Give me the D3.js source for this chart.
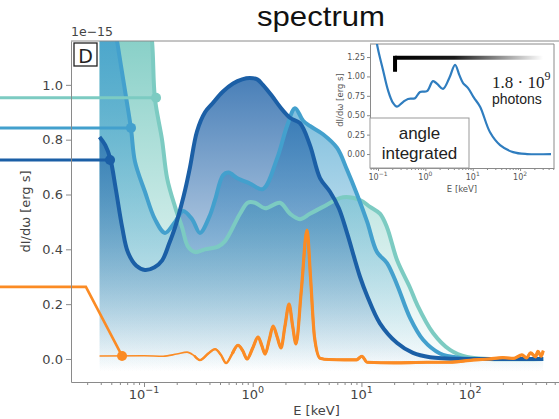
<!DOCTYPE html>
<html>
<head>
<meta charset="utf-8">
<script src="https://cdn.jsdelivr.net/npm/d3@7"></script>
<style>
body { margin: 0; background: #fff; }
svg { display: block; }
</style>
</head>
<body>
<svg id="fig" width="559" height="419"></svg>
<script>
// energies in keV, values in units of 1e-15 erg s
var tealE = [0.039, 0.06, 0.08, 0.1, 0.1185, 0.126, 0.1465, 0.163, 0.193, 0.224, 0.254, 0.295, 0.364, 0.48, 0.556, 0.764, 0.9, 1.05, 1.3, 1.78, 2.2, 2.72, 3.36, 4.43, 6.78, 9.7, 12, 14.8, 17.2, 21.3, 28, 32.4, 45.6, 65.3, 93.5, 150, 470];
var tealV = [2.6, 2.2, 1.8, 1.4, 1.16, 0.95, 0.80, 0.66, 0.555, 0.48, 0.41, 0.39, 0.40, 0.41, 0.43, 0.53, 0.57, 0.57, 0.55, 0.57, 0.53, 0.51, 0.53, 0.555, 0.59, 0.58, 0.555, 0.53, 0.48, 0.36, 0.26, 0.20, 0.095, 0.033, 0.007, 0.0, 0.0];

var mediumE = [0.039, 0.05, 0.0565, 0.0668, 0.0759, 0.0826, 0.102, 0.126, 0.156, 0.193, 0.229, 0.277, 0.327, 0.40, 0.45, 0.533, 0.6, 0.717, 0.944, 1.24, 1.67, 2.07, 2.45, 2.9, 3.36, 4.43, 5.97, 7.37, 9.12, 11.3, 13.9, 17.2, 21.3, 28, 36.9, 52.8, 80.7, 150, 470];
var mediumV = [1.6, 1.3, 1.16, 0.98, 0.84, 0.72, 0.61, 0.51, 0.46, 0.50, 0.54, 0.51, 0.46, 0.52, 0.58, 0.67, 0.68, 0.66, 0.64, 0.62, 0.73, 0.85, 0.915, 0.87, 0.85, 0.82, 0.77, 0.69, 0.60, 0.50, 0.39, 0.35, 0.27, 0.15, 0.07, 0.02, 0.004, 0.0, 0.0];

var darkE = [0.039, 0.044, 0.049, 0.055, 0.063, 0.071, 0.085, 0.102, 0.125, 0.147, 0.17, 0.193, 0.22, 0.24, 0.265, 0.307, 0.364, 0.422, 0.53, 0.66, 0.8, 0.94, 1.1, 1.24, 1.5, 1.78, 2.2, 2.72, 3.36, 4.16, 5.14, 6.2, 7.37, 9.7, 11.3, 14.8, 21.3, 29.8, 42.8, 60, 100, 200, 470];
var darkV = [0.81, 0.78, 0.73, 0.62, 0.48, 0.39, 0.34, 0.325, 0.335, 0.36, 0.42, 0.48, 0.56, 0.62, 0.70, 0.83, 0.90, 0.93, 0.975, 1.005, 1.02, 1.025, 1.02, 1.0, 0.96, 0.92, 0.88, 0.86, 0.78, 0.66, 0.61, 0.55, 0.46, 0.30, 0.23, 0.13, 0.058, 0.022, 0.006, 0.002, 0.0, 0.0, 0.0];

var orangeE = [0.039, 0.1, 0.15, 0.2, 0.249, 0.29, 0.327, 0.39, 0.45, 0.51, 0.568, 0.65, 0.732, 0.81, 0.887, 1.0, 1.12, 1.21, 1.30, 1.42, 1.54, 1.68, 1.82, 1.98, 2.16, 2.33, 2.50, 2.8, 3.16, 3.4, 3.7, 4.16, 5, 7, 9, 10.1, 11.3, 20, 40, 65, 100, 150, 200, 250, 300, 330, 360, 400, 420, 450, 470];
var orangeV = [0.011, 0.012, 0.010, 0.018, 0.025, 0.012, -0.004, 0.02, 0.036, 0.015, -0.015, 0.02, 0.05, 0.03, 0.0, 0.04, 0.08, 0.05, 0.018, 0.07, 0.12, 0.08, 0.04, 0.12, 0.20, 0.12, 0.055, 0.25, 0.47, 0.30, 0.08, 0.003, -0.002, -0.003, -0.003, 0.01, -0.012, -0.014, -0.012, -0.012, -0.005, 0.0, 0.005, 0.002, 0.015, 0.004, 0.022, 0.008, 0.028, 0.01, 0.03];

// dots where the side lines meet the curves (teal, medium, dark, orange)
var markerE = [0.129, 0.0759, 0.0487, 0.0628];
var markerV = [0.953, 0.843, 0.726, 0.011];
var orangeElbowE = 0.0292, orangeElbowV = 0.263;

// inset: angle integrated spectrum
var insetE = [0.085, 0.095, 0.128, 0.163, 0.207, 0.252, 0.337, 0.43, 0.605, 0.771, 1.08, 1.45, 1.8, 2.36, 3.2, 4.24, 5.2, 6.25, 7.98, 10.5, 14.3, 23.2, 37.8, 71.2, 141, 450];
var insetV = [1.7, 1.42, 1.08, 0.82, 0.66, 0.61, 0.67, 0.71, 0.72, 0.80, 0.81, 0.94, 0.90, 0.84, 0.98, 1.15, 1.02, 0.915, 0.85, 0.73, 0.61, 0.28, 0.115, 0.025, 0.0, 0.0];
var barE = [0.229, 306], barV = [1.06, 1.24];

var yTicks = [0, 0.2, 0.4, 0.6, 0.8, 1.0];
var xTicks = [0.1, 1, 10, 100];
var xTickExp = ["\u22121", "0", "1", "2"];
var insetYTicks = [0, 0.25, 0.5, 0.75, 1.0, 1.25];

var colors = { teal: "#7ccbc2", medium: "#43a0cd", dark: "#1b5fa6", orange: "#fb8b24" };
var sans = "'DejaVu Sans', sans-serif";
var arial = "'Liberation Sans', Arial, sans-serif";

var svg = d3.select("#fig");
var defs = svg.append("defs");

var mLeft = 71, mTop = 41, W = 491, H = 341;
var x = d3.scaleLog().domain([0.0213, 700]).range([0, W]);
var y = d3.scaleLinear().domain([-0.084, 1.16]).range([H, 0]);

var g = svg.append("g").attr("transform", "translate(" + mLeft + "," + mTop + ")");

defs.append("clipPath").attr("id", "plotclip")
  .append("rect").attr("width", W).attr("height", H);

var series = [
  { name: "teal", E: tealE, V: tealV, op: 0.9 },
  { name: "medium", E: mediumE, V: mediumV, op: 0.85 },
  { name: "dark", E: darkE, V: darkV, op: 0.9 }
];

series.forEach(function(s) {
  var gr = defs.append("linearGradient").attr("id", "fill-" + s.name)
    .attr("gradientUnits", "userSpaceOnUse")
    .attr("x1", 0).attr("x2", 0).attr("y1", 0).attr("y2", y(-0.045));
  gr.append("stop").attr("offset", 0).attr("stop-color", colors[s.name]).attr("stop-opacity", s.op);
  gr.append("stop").attr("offset", 1).attr("stop-color", colors[s.name]).attr("stop-opacity", 0);
});

var plot = g.append("g").attr("clip-path", "url(#plotclip)");

function pts(E, V) { return E.map(function(e, i) { return [e, V[i]]; }); }

var area = d3.area()
  .x(function(d) { return x(d[0]); })
  .y0(y(-0.045))
  .y1(function(d) { return y(d[1]); })
  .curve(d3.curveCatmullRom.alpha(0.5));
var line = d3.line()
  .x(function(d) { return x(d[0]); })
  .y(function(d) { return y(d[1]); })
  .curve(d3.curveCatmullRom.alpha(0.5));

series.forEach(function(s) {
  plot.append("path").attr("d", area(pts(s.E, s.V)))
    .attr("fill", "url(#fill-" + s.name + ")");
});
series.forEach(function(s) {
  plot.append("path").attr("d", line(pts(s.E, s.V)))
    .attr("fill", "none").attr("stroke", colors[s.name])
    .attr("stroke-width", 4).attr("stroke-linejoin", "round");
});

// orange gets thicker towards higher energies
var oLine = d3.line()
  .x(function(d) { return x(d[0]); })
  .y(function(d) { return y(d[1]); })
  .curve(d3.curveMonotoneX);
var oPts = pts(orangeE, orangeV);
[[0, 1.6], [0.29, 2.4], [0.65, 3.2]].forEach(function(w) {
  plot.append("path").attr("d", oLine(oPts.filter(function(d) { return d[0] >= w[0]; })))
    .attr("fill", "none").attr("stroke", colors.orange)
    .attr("stroke-width", w[1]).attr("stroke-linejoin", "round");
});

// side lines coming in from the left edge
var names = ["teal", "medium", "dark"];
names.forEach(function(n, i) {
  g.append("line")
    .attr("x1", -mLeft).attr("x2", x(markerE[i]))
    .attr("y1", y(markerV[i])).attr("y2", y(markerV[i]))
    .attr("stroke", colors[n]).attr("stroke-width", 3);
  g.append("circle").attr("cx", x(markerE[i])).attr("cy", y(markerV[i]))
    .attr("r", 5).attr("fill", colors[n]);
});
g.append("polyline")
  .attr("points", [[-mLeft, y(orangeElbowV)], [x(orangeElbowE), y(orangeElbowV)], [x(markerE[3]), y(markerV[3])]].join(" "))
  .attr("fill", "none").attr("stroke", colors.orange).attr("stroke-width", 2.6);
g.append("circle").attr("cx", x(markerE[3])).attr("cy", y(markerV[3]))
  .attr("r", 5).attr("fill", colors.orange);

// axes
var axisColor = "#8a8a8a", labelColor = "#444";

var yAxis = g.append("g").call(d3.axisLeft(y).tickValues(yTicks).tickFormat(d3.format(".1f")).tickSize(5).tickPadding(3).tickSizeOuter(0));
var xAxis = g.append("g").attr("transform", "translate(0," + H + ")")
  .call(d3.axisBottom(x).tickValues(xTicks).tickFormat("").tickSize(5).tickSizeOuter(0));

var minors = [];
for (var p = -2; p <= 2; p++) {
  for (var m = 2; m <= 9; m++) {
    var v = m * Math.pow(10, p);
    if (v > 0.0213 && v < 700) minors.push(v);
  }
}
var xMinor = g.append("g").attr("transform", "translate(0," + H + ")")
  .call(d3.axisBottom(x).tickValues(minors).tickFormat("").tickSize(3).tickSizeOuter(0));
xMinor.select(".domain").remove();

[yAxis, xAxis, xMinor].forEach(function(a) {
  a.selectAll(".domain, line").attr("stroke", axisColor);
  a.selectAll("text").attr("fill", labelColor).style("font-family", sans).style("font-size", "13px");
});
g.append("line").attr("x1", 0).attr("x2", W).attr("y1", 0).attr("y2", 0).attr("stroke", axisColor);

xTicks.forEach(function(t, i) {
  var tx = g.append("text").attr("x", x(t)).attr("y", H + 17)
    .attr("text-anchor", "middle").attr("fill", labelColor)
    .style("font-family", sans).style("font-size", "13px");
  tx.append("tspan").text("10");
  tx.append("tspan").attr("dy", -6).style("font-size", "9.5px").text(xTickExp[i]);
});

g.append("text").attr("x", 0).attr("y", -5).attr("fill", labelColor)
  .style("font-family", sans).style("font-size", "12.5px").text("1e\u221215");

g.append("text")
  .attr("transform", "translate(" + (30 - mLeft) + "," + (H / 2) + ") rotate(-90)")
  .attr("text-anchor", "middle").attr("fill", labelColor)
  .style("font-family", sans).style("font-size", "13px").text("dI/d\u03c9 [erg s]");

g.append("text").attr("x", W / 2).attr("y", H + 33)
  .attr("text-anchor", "middle").attr("fill", labelColor)
  .style("font-family", sans).style("font-size", "13px").text("E [keV]");

// panel letter
g.append("rect").attr("x", 3).attr("y", 2).attr("width", 23).attr("height", 23)
  .attr("fill", "#fff").attr("stroke", "#222").attr("stroke-width", 1.3);
g.append("text").attr("x", 14.5).attr("y", 21.5).attr("text-anchor", "middle")
  .attr("fill", "#222").style("font-family", sans).style("font-size", "19px").text("D");

// title
svg.append("text").attr("x", 321).attr("y", 26).attr("text-anchor", "middle")
  .attr("textLength", 128).attr("lengthAdjust", "spacingAndGlyphs")
  .style("font-family", arial).style("font-size", "28px").attr("fill", "#111").text("spectrum");

// ---- inset ----
var IW = 184, IH = 124;
var xi = d3.scaleLog().domain([0.0678, 520]).range([0, IW]);
var yi = d3.scaleLinear().domain([-0.18, 1.418]).range([IH, 0]);
var ins = svg.append("g").attr("transform", "translate(370,44)");

defs.append("clipPath").attr("id", "insetclip")
  .append("rect").attr("width", IW).attr("height", IH);

ins.append("rect").attr("width", IW).attr("height", IH).attr("fill", "#fff");

var iyAxis = ins.append("g").call(d3.axisLeft(yi).tickValues(insetYTicks).tickFormat(d3.format(".2f")).tickSize(3).tickPadding(2).tickSizeOuter(0));
var ixAxis = ins.append("g").attr("transform", "translate(0," + IH + ")")
  .call(d3.axisBottom(xi).tickValues(xTicks).tickFormat("").tickSize(3).tickSizeOuter(0));
var iMinor = [];
for (var q = -2; q <= 2; q++) {
  for (var k = 2; k <= 9; k++) {
    var vv = k * Math.pow(10, q);
    if (vv > 0.0678 && vv < 520) iMinor.push(vv);
  }
}
var ixMinor = ins.append("g").attr("transform", "translate(0," + IH + ")")
  .call(d3.axisBottom(xi).tickValues(iMinor).tickFormat("").tickSize(2).tickSizeOuter(0));
ixMinor.select(".domain").remove();
[iyAxis, ixAxis, ixMinor].forEach(function(a) {
  a.selectAll(".domain, line").attr("stroke", axisColor);
  a.selectAll("text").attr("fill", "#555").style("font-family", sans).style("font-size", "8px");
});
ins.append("line").attr("x1", 0).attr("x2", IW).attr("stroke", axisColor);
ins.append("line").attr("x1", IW).attr("x2", IW).attr("y1", 0).attr("y2", IH).attr("stroke", axisColor);

xTicks.forEach(function(t, i) {
  var tx = ins.append("text").attr("x", xi(t)).attr("y", IH + 12)
    .attr("text-anchor", "middle").attr("fill", "#555")
    .style("font-family", sans).style("font-size", "8px");
  tx.append("tspan").text("10");
  tx.append("tspan").attr("dy", -4).style("font-size", "6px").text(xTickExp[i]);
});
ins.append("text").attr("x", IW / 2).attr("y", IH + 24).attr("text-anchor", "middle")
  .attr("fill", "#555").style("font-family", sans).style("font-size", "8.5px").text("E [keV]");
ins.append("text").attr("transform", "translate(-27," + (IH / 2 - 6) + ") rotate(-90)")
  .attr("text-anchor", "middle").attr("fill", "#555")
  .style("font-family", sans).style("font-size", "8.5px").text("dI/d\u03c9 [erg s]");

ins.append("g").attr("clip-path", "url(#insetclip)")
  .append("path").attr("d", d3.line()
    .x(function(d) { return xi(d[0]); })
    .y(function(d) { return yi(d[1]); })
    .curve(d3.curveCatmullRom.alpha(0.5))(pts(insetE, insetV)))
  .attr("fill", "none").attr("stroke", "#2f7dbf").attr("stroke-width", 2.2);

// photon count bar
var bg = defs.append("linearGradient").attr("id", "barGrad")
  .attr("gradientUnits", "userSpaceOnUse")
  .attr("x1", xi(barE[0])).attr("x2", xi(barE[1])).attr("y1", 0).attr("y2", 0);
bg.append("stop").attr("offset", 0).attr("stop-color", "#000").attr("stop-opacity", 1);
bg.append("stop").attr("offset", 0.4).attr("stop-color", "#000").attr("stop-opacity", 0.9);
bg.append("stop").attr("offset", 1).attr("stop-color", "#000").attr("stop-opacity", 0);
ins.append("line").attr("x1", xi(barE[0])).attr("x2", xi(barE[1]))
  .attr("y1", yi(barV[1])).attr("y2", yi(barV[1]))
  .attr("stroke", "url(#barGrad)").attr("stroke-width", 4);
ins.append("line").attr("x1", xi(barE[0])).attr("x2", xi(barE[0]))
  .attr("y1", yi(barV[1]) - 2).attr("y2", yi(barV[0]))
  .attr("stroke", "#000").attr("stroke-width", 4);

var ph = ins.append("text").attr("x", 122).attr("y", 44).attr("fill", "#222")
  .style("font-family", "'Liberation Serif', 'DejaVu Serif', serif").style("font-size", "17px");
ph.append("tspan").text("1.8 \u00b7 10");
ph.append("tspan").attr("dy", -8).style("font-size", "12px").text("9");
ins.append("text").attr("x", 122).attr("y", 60).attr("fill", "#222")
  .style("font-family", arial).style("font-size", "14px").text("photons");

// angle integrated label box
ins.append("rect").attr("x", 0).attr("y", 74).attr("width", 99).attr("height", IH - 74)
  .attr("fill", "#fff").attr("stroke", "#999").attr("stroke-width", 1);
ins.append("text").attr("x", 49.5).attr("y", 95).attr("text-anchor", "middle").attr("fill", "#222")
  .style("font-family", arial).style("font-size", "17px").text("angle");
ins.append("text").attr("x", 49.5).attr("y", 115).attr("text-anchor", "middle").attr("fill", "#222")
  .style("font-family", arial).style("font-size", "17px").text("integrated");
</script>
</body>
</html>
